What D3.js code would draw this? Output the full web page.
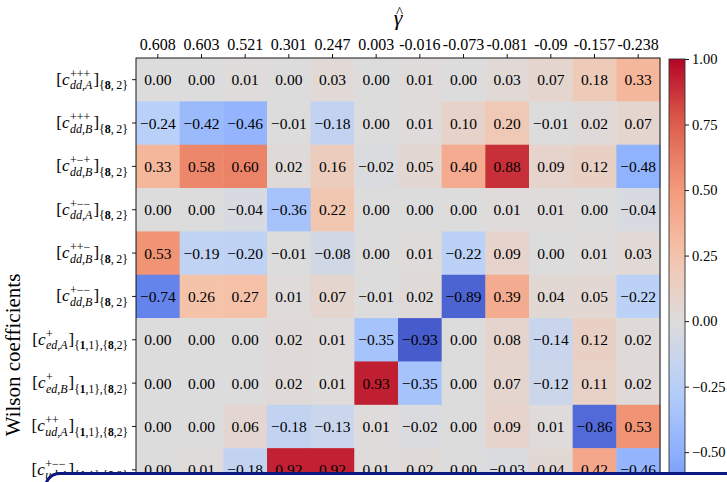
<!DOCTYPE html>
<html>
<head>
<meta charset="utf-8">
<script src="https://cdn.jsdelivr.net/npm/d3@7"></script>
<style>
  body { margin: 0; background: #fff; }
  svg text { font-family: "Liberation Serif", "DejaVu Serif", serif; fill: #000; }
</style>
</head>
<body>
<div id="viz"></div>
<script>
// gamma-hat values on top axis
var gammaLabels = ["0.608","0.603","0.521","0.301","0.247","0.003","-0.016","-0.073","-0.081","-0.09","-0.157","-0.238"];

// row label pieces: superscript, subscript, outer subscript
var rowSup = ["+++","+++","+\u2212+","+\u2212\u2212","++\u2212","+\u2212\u2212","+","+","++","+\u2212\u2212"];
var rowSub = ["dd,A","dd,B","dd,B","dd,A","dd,B","dd,B","ed,A","ed,B","ud,A","ud,A"];
var rowOuter = ["82","82","82","82","82","82","1182","1182","1182","1182"];

var values = [
	[0.00, 0.00, 0.01, 0.00, 0.03, 0.00, 0.01, 0.00, 0.03, 0.07, 0.18, 0.33],
	[-0.24, -0.42, -0.46, -0.01, -0.18, 0.00, 0.01, 0.10, 0.20, -0.01, 0.02, 0.07],
	[0.33, 0.58, 0.60, 0.02, 0.16, -0.02, 0.05, 0.40, 0.88, 0.09, 0.12, -0.48],
	[0.00, 0.00, -0.04, -0.36, 0.22, 0.00, 0.00, 0.00, 0.01, 0.01, 0.00, -0.04],
	[0.53, -0.19, -0.20, -0.01, -0.08, 0.00, 0.01, -0.22, 0.09, 0.00, 0.01, 0.03],
	[-0.74, 0.26, 0.27, 0.01, 0.07, -0.01, 0.02, -0.89, 0.39, 0.04, 0.05, -0.22],
	[0.00, 0.00, 0.00, 0.02, 0.01, -0.35, -0.93, 0.00, 0.08, -0.14, 0.12, 0.02],
	[0.00, 0.00, 0.00, 0.02, 0.01, 0.93, -0.35, 0.00, 0.07, -0.12, 0.11, 0.02],
	[0.00, 0.00, 0.06, -0.18, -0.13, 0.01, -0.02, 0.00, 0.09, 0.01, -0.86, 0.53],
	[0.00, 0.01, -0.18, 0.92, 0.92, 0.01, 0.02, 0.00, -0.03, 0.04, 0.42, -0.46]
];

var cbarTicks = [1, 0.75, 0.5, 0.25, 0, -0.25, -0.5, -0.75, -1];

// coolwarm approximation
var coolwarm = ["#3b4cc0","#6282ea","#8db0fe","#b8d0f9","#dddcdc","#f5c4ac","#f49a7b","#de604d","#b40426"];
var color = d3.scaleLinear()
	.domain(d3.range(coolwarm.length).map(function(i){ return -1 + 2*i/(coolwarm.length-1); }))
	.range(coolwarm)
	.interpolate(d3.interpolateRgb)
	.clamp(true);

var W = 727, H = 482;
var nCols = 12, nRows = 12;
var plotL = 136, plotR = 660, plotT = 58, cell = 43.35;

var svg = d3.select("#viz")
	.append("svg")
	.attr("width", W)
	.attr("height", H);

var x = d3.scaleBand().domain(d3.range(nCols)).range([plotL, plotR]);
var y = d3.scaleBand().domain(d3.range(nRows)).range([plotT, plotT + nRows*cell]);

// cells
var rows = svg.selectAll("g.row")
	.data(values)
	.enter()
	.append("g")
	.attr("class","row")
	.attr("transform", function(d,i){ return "translate(0," + y(i) + ")"; });

rows.selectAll("rect")
	.data(function(d){ return d; })
	.enter()
	.append("rect")
	.attr("x", function(d,j){ return x(j); })
	.attr("width", x.bandwidth() + 0.5)
	.attr("height", y.bandwidth() + 0.5)
	.attr("fill", function(d){ return color(d); });

rows.selectAll("text")
	.data(function(d){ return d; })
	.enter()
	.append("text")
	.attr("x", function(d,j){ return x(j) + x.bandwidth()/2; })
	.attr("y", y.bandwidth()/2 + 5.5)
	.attr("text-anchor","middle")
	.style("font-size","15.5px")
	.text(function(d){ return d3.format(".2f")(d); });

// spines
svg.append("rect")
	.attr("x", plotL).attr("y", plotT)
	.attr("width", plotR-plotL).attr("height", nRows*cell)
	.attr("fill","none").attr("stroke","#000").attr("stroke-width",0.9);

// top axis
var topAxis = svg.append("g")
	.attr("transform","translate(0," + plotT + ")")
	.call(d3.axisTop(x).tickSize(4).tickPadding(4).tickFormat(function(d){ return gammaLabels[d]; }));
topAxis.select(".domain").remove();
topAxis.selectAll("text").style("font-size","16px");
topAxis.selectAll("line").attr("stroke","#000").attr("stroke-width",0.9);

// left ticks
var leftAxis = svg.append("g")
	.attr("transform","translate(" + plotL + ",0)")
	.call(d3.axisLeft(y).tickSize(4).tickFormat(""));
leftAxis.select(".domain").remove();
leftAxis.selectAll("line").attr("stroke","#000").attr("stroke-width",0.9);

// row labels
function drawLabel(i){
	var g = svg.append("g");
	var pos = 0;
	function piece(txt, size, dy, italic){
		var t = g.append("text")
			.attr("x", pos).attr("y", dy)
			.style("font-size", size + "px")
			.style("font-style", italic ? "italic" : "normal")
			.text(txt);
		return t.node().getComputedTextLength();
	}
	pos += piece("[", 17, 0, false);
	pos += piece("c", 17, 0, true) + 0.5;
	var w1 = piece(rowSup[i], 12, -7, false);
	var w2 = piece(rowSub[i], 12, 4.5, true);
	pos += Math.max(w1, w2) + 1;
	pos += piece("]", 17, 0, false);
	// outer subscript with bold numbers
	var t = g.append("text").attr("x", pos).attr("y", 4.5).style("font-size","12px");
	var o = rowOuter[i];
	if (o.length === 4) {
		t.style("font-size","11.5px");
		t.append("tspan").text("{");
		t.append("tspan").style("font-weight","bold").text(o[0]);
		t.append("tspan").text("," + o[1] + "},{");
		t.append("tspan").style("font-weight","bold").text(o[2]);
		t.append("tspan").text("," + o[3] + "}");
	} else {
		t.append("tspan").text("{");
		t.append("tspan").style("font-weight","bold").text(o[0]);
		t.append("tspan").text(",\u2009" + o[1] + "}");
	}
	pos += t.node().getComputedTextLength();
	g.attr("transform","translate(" + (128 - pos) + "," + (y(i) + y.bandwidth()/2 + 5) + ")");
}
for (var i = 0; i < values.length; i++) drawLabel(i);

// title: gamma with hat
var cx = (plotL+plotR)/2;
svg.append("text")
	.attr("x", cx).attr("y", 25)
	.attr("text-anchor","middle")
	.style("font-size","22px").style("font-style","italic")
	.text("\u03b3");
svg.append("text")
	.attr("x", cx + 1.5).attr("y", 17)
	.attr("text-anchor","middle")
	.style("font-size","15px")
	.text("^");

// y label
svg.append("text")
	.attr("transform","translate(20,355) rotate(-90)")
	.attr("text-anchor","middle")
	.style("font-size","21px")
	.text("Wilson coefficients");

// colorbar
var cbX = 669, cbW = 16;
var cy = d3.scaleLinear().domain([1,-1]).range([plotT + 1, plotT + nRows*cell + 5]);
var grad = svg.append("defs").append("linearGradient")
	.attr("id","cw").attr("x1",0).attr("y1",0).attr("x2",0).attr("y2",1);
d3.range(0, 1.0001, 0.05).forEach(function(t){
	grad.append("stop").attr("offset", t).attr("stop-color", color(1 - 2*t));
});
svg.append("rect")
	.attr("x", cbX).attr("y", cy(1))
	.attr("width", cbW).attr("height", cy(-1) - cy(1))
	.attr("fill","url(#cw)")
	.attr("stroke","#333").attr("stroke-width",0.9);
var cbAxis = svg.append("g")
	.attr("transform","translate(" + (cbX + cbW) + ",0)")
	.call(d3.axisRight(cy).tickValues(cbarTicks).tickSize(4).tickPadding(3)
		.tickFormat(function(d){ return d3.format(".2f")(d).replace("-","\u2212"); }));
cbAxis.select(".domain").remove();
cbAxis.selectAll("text").style("font-size","14.5px");
cbAxis.selectAll("line").attr("stroke","#000").attr("stroke-width",0.9);

// overlay panel at the bottom
svg.append("rect")
	.attr("x", 45.5).attr("y", 473.5)
	.attr("width", 760).attr("height", 80)
	.attr("rx", 14)
	.attr("fill","#fff")
	.attr("stroke","#0d1780")
	.attr("stroke-width", 3);
</script>
</body>
</html>
